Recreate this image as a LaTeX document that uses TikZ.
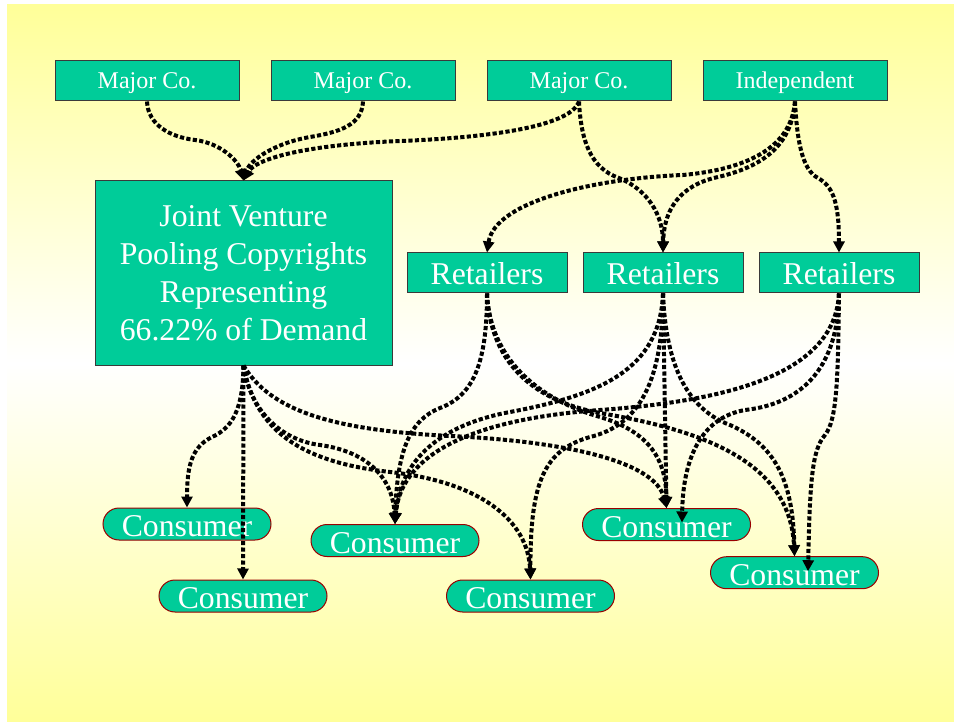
\documentclass[tikz,border=0pt]{standalone}
\usepackage{fontspec}
\setmainfont{Liberation Serif}
\usetikzlibrary{arrows.meta,calc}
\definecolor{slideyellow}{HTML}{FFFF99}
\definecolor{boxgreen}{HTML}{00CC99}
\definecolor{boxedge}{HTML}{3A3A3A}
\definecolor{pilledge}{HTML}{990000}

\begin{document}
\begin{tikzpicture}[x=1pt,y=-1pt,
  card/.style={draw=boxedge, line width=1pt, fill=boxgreen, text=white,
    inner sep=0pt, font=\fontsize{31.7}{38}\selectfont},
  firm/.style={card, minimum width=184pt, minimum height=40pt,
    text height=20pt, text depth=5pt, font=\fontsize{24}{28}\selectfont},
  pool/.style={card, minimum width=297pt, minimum height=184pt, align=center},
  shop/.style={card, minimum width=160pt, minimum height=40pt,
    text height=23pt, text depth=0pt},
  buyer/.style={card, draw=pilledge, rounded corners=16pt,
    minimum width=168pt, minimum height=32pt, text height=25pt, text depth=0pt},
  flow/.style={line width=4pt, dash pattern=on 4.2pt off 2.3pt,
    -{Triangle[length=11pt,width=11pt]}}
]
% slide background
\useasboundingbox (0,0) rectangle (954,722);
\fill[white] (0,0) rectangle (954,722);
\shade[top color=slideyellow, bottom color=slideyellow, middle color=white]
  (7,5) rectangle (954,722);

% rights holders
\node[firm] (mc1) at (147,81) {Major Co.};
\node[firm] (mc2) at (363,81) {Major Co.};
\node[firm] (mc3) at (579,81) {Major Co.};
\node[firm] (ind) at (795,81) {Independent};

% pool and retailers
\node[pool] (jv) at (243.5,273)
  {\rule{0pt}{22pt}Joint Venture\\Pooling Copyrights\\Representing\\66.22\% of Demand};
\node[shop] (r1) at (487,273) {Retailers};
\node[shop] (r2) at (663,273) {Retailers};
\node[shop] (r3) at (839,273) {Retailers};

% consumers
\node[buyer] (c1) at (187,524) {Consumer};
\node[buyer] (c2) at (243,596) {Consumer};
\node[buyer] (c3) at (395,540.5) {Consumer};
\node[buyer] (c4) at (530.5,596) {Consumer};
\node[buyer] (c5) at (666.5,524.5) {Consumer};
\node[buyer] (c6) at (794.5,572.7) {Consumer};

\coordinate (c5in) at ($(c5.north)+(15.5,14.5)$);
\coordinate (c6in) at ($(c6.north)+(13.5,15)$);

% licences into the pool
\draw[flow] (mc1.south) .. controls (148,125) and (170,137) .. (195,140)
  .. controls (220,143) and (238,160) .. (jv.north);
\draw[flow] (mc2.south) .. controls (362,125) and (340,132) .. (310,137)
  .. controls (275,143) and (250,160) .. (jv.north);
\draw[flow] (mc3.south) .. controls (570,128) and (480,138) .. (400,141)
  .. controls (300,145) and (255,160) .. (jv.north);

% direct licences to retailers
\draw[flow] (mc3.south) .. controls (581,140) and (590,168) .. (619,178)
  .. controls (648,190) and (663,215) .. (r2.north);
\draw[flow] (ind.south) .. controls (792,140) and (760,168) .. (683,175)
  .. controls (600,178) and (495,200) .. (r1.north);
\draw[flow] (ind.south) .. controls (792,140) and (770,165) .. (718,177)
  .. controls (690,183) and (664,200) .. (r2.north);
\draw[flow] (ind.south) .. controls (797,140) and (802,170) .. (818,178)
  .. controls (832,186) and (839,200) .. (r3.north);

% pool to consumers
\draw[flow] (jv.south) .. controls (243,410) and (232,428) .. (212,437)
  .. controls (192,447) and (187,465) .. (c1.north);
\draw[flow] (jv.south) -- (c2.north);
\draw[flow] (jv.south) .. controls (250,410) and (280,440) .. (320,445)
  .. controls (370,452) and (393,480) .. (c3.north);
\draw[flow] (jv.south) .. controls (255,430) and (300,462) .. (390,472)
  .. controls (480,482) and (528,520) .. (c4.north);
\draw[flow] (jv.south) .. controls (270,410) and (330,430) .. (450,436)
  .. controls (560,441) and (655,460) .. (c5.north);

% retailers to consumers
\draw[flow] (r1.south) .. controls (487,360) and (475,395) .. (440,408)
  .. controls (410,420) and (397,450) .. (c3.north);
\draw[flow] (r1.south) .. controls (490,360) and (540,400) .. (600,417)
  .. controls (650,432) and (666,460) .. (c5.north);
\draw[flow] (r1.south) .. controls (490,360) and (530,400) .. (600,413)
  .. controls (700,430) and (790,460) .. (c6.north);

\draw[flow] (r2.south) .. controls (660,370) and (600,395) .. (510,412)
  .. controls (440,425) and (400,460) .. (c3.north);
\draw[flow] (r2.south) .. controls (663,380) and (640,425) .. (590,437)
  .. controls (545,450) and (530,480) .. (c4.north);
\draw[flow] (r2.south) -- (c5.north);
\draw[flow] (r2.south) .. controls (666,370) and (690,410) .. (730,425)
  .. controls (775,445) and (793,480) .. (c6.north);

\draw[flow] (r3.south) .. controls (835,370) and (740,400) .. (600,410)
  .. controls (460,420) and (400,460) .. (c3.north);
\draw[flow] (r3.south) .. controls (838,380) and (790,405) .. (745,410)
  .. controls (700,418) and (683,460) .. (c5in);
\draw[flow] (r3.south) .. controls (838,380) and (837,420) .. (825,435)
  .. controls (812,450) and (810,480) .. (c6in);
\end{tikzpicture}
\end{document}
